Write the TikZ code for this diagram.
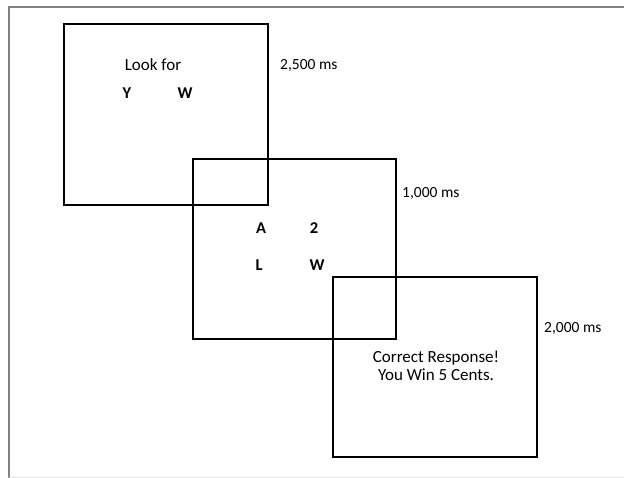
\documentclass[tikz,border=0pt]{standalone}
\usepackage{fontspec}
\setmainfont{Carlito}
\begin{document}
\begin{tikzpicture}[x=1pt,y=-1pt,
  screen/.style={draw=black,line width=2.2pt},
  txt/.style={font=\fontsize{17}{20}\selectfont,inner sep=0pt},
  bl/.style={font=\fontsize{16.5}{19}\selectfont\bfseries,inner sep=0pt},
  dur/.style={font=\fontsize{15.5}{18}\selectfont,inner sep=0pt,anchor=west}]
\useasboundingbox (0,0) rectangle (624,478);
\draw[gray,line width=1.5pt] (624,7) -- (9,7) -- (9,478);
\draw[black!12,line width=0.8pt] (9,477) -- (624,477);
% screens
\draw[screen] (64,24) rectangle (268,205);
\draw[screen] (193,159) rectangle (396,339);
\draw[screen] (333,277) rectangle (537,457);
% texts
\node[txt] (look) at (153,65) {Look for};
\node[bl] (y1) at (127,93) {Y};
\node[bl] (w1) at (185,93) {W};
\node[dur] (d1) at (280,65) {2,500 ms};
\node[bl] (a) at (261,228) {A};
\node[bl] (two) at (314,228) {2};
\node[bl] (l) at (259,265) {L};
\node[bl] (w2) at (317,265) {W};
\node[dur] (d2) at (402,193) {1,000 ms};
\node[txt,align=center] (msg) at (436,366) {Correct Response!\\[-2pt] You Win 5 Cents.};
\node[dur] (d3) at (544,328) {2,000 ms};
\end{tikzpicture}
\end{document}
